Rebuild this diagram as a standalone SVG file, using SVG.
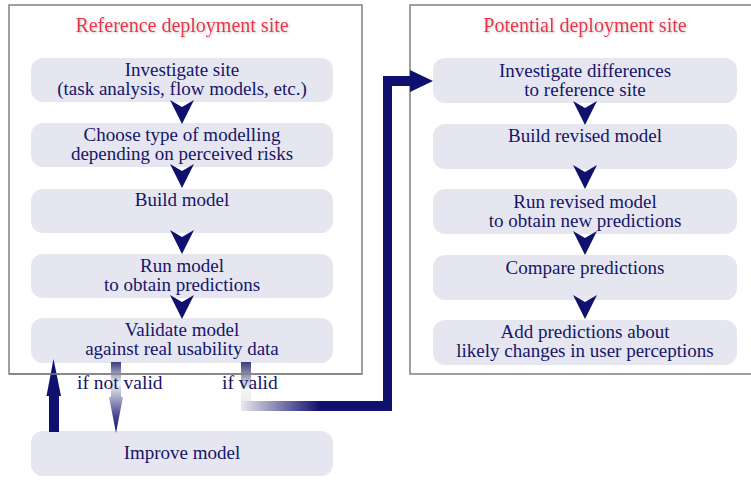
<svg xmlns="http://www.w3.org/2000/svg" width="751" height="481" viewBox="0 0 751 481">
<defs>
<style>
.frame{fill:#fff;stroke:#808080;stroke-width:1.5}
.node{fill:#e6e6f0}
.t{font-family:"Liberation Serif","DejaVu Serif",serif;font-size:19px;fill:#15156a;text-anchor:middle}
.title{font-family:"Liberation Serif","DejaVu Serif",serif;font-size:20px;fill:#e8344a;text-anchor:middle}
.lbl{font-family:"Liberation Serif","DejaVu Serif",serif;font-size:19.5px;fill:#15156a}
.navy{fill:#10106e}
</style>
<filter id="glow" x="-10%" y="-40%" width="120%" height="180%">
<feDropShadow dx="1" dy="1" stdDeviation="1" flood-color="#999" flood-opacity="0.6"/>
</filter>
<linearGradient id="gDown" x1="0" y1="362" x2="0" y2="433" gradientUnits="userSpaceOnUse">
<stop offset="0" stop-color="#3a3a80"/>
<stop offset="0.3" stop-color="#f4f4f4"/>
<stop offset="0.75" stop-color="#4a4a90"/>
<stop offset="1" stop-color="#10106e"/>
</linearGradient>
<linearGradient id="gV" x1="0" y1="362" x2="0" y2="411" gradientUnits="userSpaceOnUse">
<stop offset="0" stop-color="#3a3a80"/>
<stop offset="0.55" stop-color="#f4f4ee"/>
<stop offset="1" stop-color="#e8e8ee"/>
</linearGradient>
<linearGradient id="gH" x1="241" y1="0" x2="320" y2="0" gradientUnits="userSpaceOnUse">
<stop offset="0" stop-color="#e8e8ee"/>
<stop offset="1" stop-color="#10106e"/>
</linearGradient>
<path id="chev" d="M-12,0 L0,7 L12,0 L0,24 Z"/>
</defs>
<rect x="0" y="0" width="751" height="481" fill="#fff"/>

<g id="panel-reference">
<rect class="frame" x="9" y="5" width="353" height="369"/>
<text class="title" x="182" y="32" filter="url(#glow)">Reference deployment site</text>
</g>
<g id="panel-potential">
<rect class="frame" x="410" y="5" width="350" height="369"/>
<text class="title" x="585" y="32" filter="url(#glow)">Potential deployment site</text>
</g>

<g id="n-investigate-site">
<rect class="node" x="31" y="58" width="302" height="44" rx="12"/>
<text class="t" x="182" y="76">Investigate site</text>
<text class="t" x="182" y="95">(task analysis, flow models, etc.)</text>
</g>
<g id="n-choose-type">
<rect class="node" x="31" y="123" width="302" height="44" rx="12"/>
<text class="t" x="182" y="141">Choose type of modelling</text>
<text class="t" x="182" y="160">depending on perceived risks</text>
</g>
<g id="n-build-model">
<rect class="node" x="31" y="189" width="302" height="44" rx="12"/>
<text class="t" x="182" y="206">Build model</text>
</g>
<g id="n-run-model">
<rect class="node" x="31" y="254" width="302" height="44" rx="12"/>
<text class="t" x="182" y="272">Run model</text>
<text class="t" x="182" y="291">to obtain predictions</text>
</g>
<g id="n-validate-model">
<rect class="node" x="31" y="318" width="302" height="45" rx="12"/>
<text class="t" x="182" y="336">Validate model</text>
<text class="t" x="182" y="355">against real usability data</text>
</g>
<g id="n-improve-model">
<rect class="node" x="31" y="431" width="302" height="45" rx="12"/>
<text class="t" x="182" y="459">Improve model</text>
</g>

<g id="n-investigate-differences">
<rect class="node" x="433" y="58" width="304" height="45" rx="12"/>
<text class="t" x="585" y="77">Investigate differences</text>
<text class="t" x="585" y="96">to reference site</text>
</g>
<g id="n-build-revised">
<rect class="node" x="433" y="124" width="304" height="45" rx="12"/>
<text class="t" x="585" y="142">Build revised model</text>
</g>
<g id="n-run-revised">
<rect class="node" x="433" y="189" width="304" height="45" rx="12"/>
<text class="t" x="585" y="208">Run revised model</text>
<text class="t" x="585" y="227">to obtain new predictions</text>
</g>
<g id="n-compare">
<rect class="node" x="433" y="255" width="304" height="45" rx="12"/>
<text class="t" x="585" y="274">Compare predictions</text>
</g>
<g id="n-add-predictions">
<rect class="node" x="433" y="320" width="304" height="45" rx="12"/>
<text class="t" x="585" y="338">Add predictions about</text>
<text class="t" x="585" y="357">likely changes in user perceptions</text>
</g>

<g id="connectors">
<use href="#chev" class="navy" x="182" y="100"/>
<use href="#chev" class="navy" x="182" y="164"/>
<use href="#chev" class="navy" x="182" y="230"/>
<use href="#chev" class="navy" x="182" y="295"/>
<use href="#chev" class="navy" x="585" y="101"/>
<use href="#chev" class="navy" x="585" y="165"/>
<use href="#chev" class="navy" x="585" y="231"/>
<use href="#chev" class="navy" x="585" y="295"/>
<path class="navy" d="M49,432 L49,396 L46.5,396 L53.5,359 L61,396 L59,396 L59,432 Z"/>
<path fill="url(#gDown)" d="M111,362 L121,362 L121,397 L123,397 L116,433 L109,397 L111,397 Z"/>
<rect x="241" y="362" width="10" height="49" fill="url(#gV)"/>
<rect x="241" y="401" width="80" height="10" fill="url(#gH)"/>
<path class="navy" d="M320,401 L383,401 L383,76 L410,76 L410,70 L433,81 L410,92 L410,86 L392,86 L392,411 L320,411 Z"/>
<text class="lbl" x="77" y="389">if not valid</text>
<text class="lbl" x="222" y="389">if valid</text>
</g>
<line x1="9" y1="374" x2="362" y2="374" stroke="#808080" stroke-width="1.5"/>
</svg>
